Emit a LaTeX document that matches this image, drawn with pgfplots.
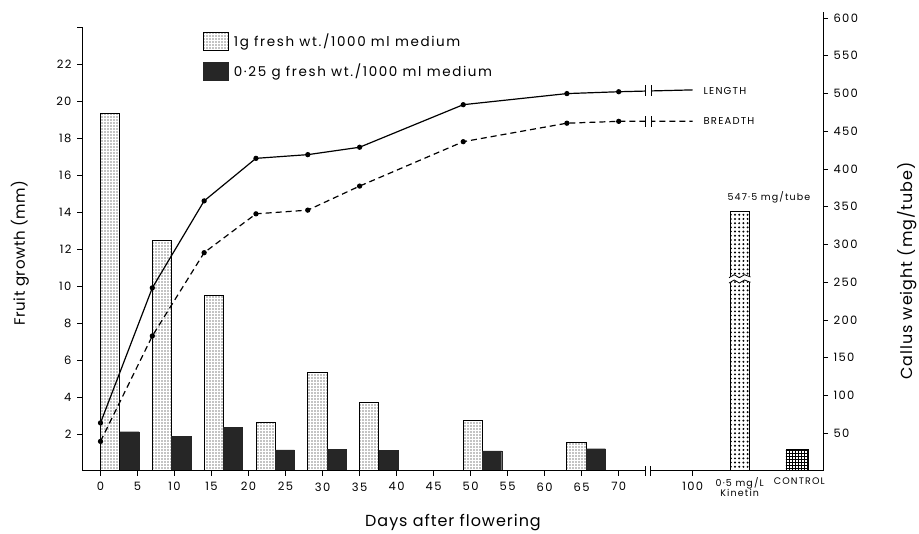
\documentclass[border=0pt]{standalone}
\usepackage{fontspec}
\setmainfont{Poppins}
\newfontfamily\letterfont[LetterSpace=12]{Poppins}
\usepackage{pgfplots}
\pgfplotsset{compat=1.18}
\usetikzlibrary{patterns,patterns.meta}

\definecolor{barblack}{HTML}{262626}

% callus weight (mg/tube), bars start at day d
\pgfplotstableread{
day  high  low
0    474   52
7    305   46
14   233   58
21   64.5  28
28   130   29
35   91    27
49   66.6  26.5
63   37.5  29.5
}\callus

% fruit growth (mm); the last point (x=80) stands for day 100, past the axis break
\pgfplotstableread{
day  len   br
0    2.6   1.6
7    9.9   7.3
14   14.6  11.8
21   16.9  13.9
28   17.1  14.1
35   17.5  15.4
49   19.8  17.8
63   20.4  18.8
70   20.5  18.9
80   20.6  18.9
}\growth

\begin{document}
\begin{tikzpicture}
\useasboundingbox (0pt,0pt) rectangle (919pt,534pt);

% ---- bars, right axis (callus weight)
\begin{axis}[
  at={(82pt,63pt)}, anchor=south west,
  width=741pt, height=459pt, scale only axis,
  xmin=-2.5, xmax=97.6, ymin=0, ymax=608,
  axis x line=none, axis y line*=right,
  axis line style={-, line width=1pt},
  ytick={50,100,...,600},
  tick align=outside, major tick length=5pt,
  tick style={line width=0.8pt, black},
  /pgf/number format/assume math mode=true,
  yticklabel style={font=\letterfont\fontsize{11.5}{13}\selectfont, xshift=2pt},
  legend style={at={(axis description cs:0.163,0.957)}, anchor=north west,
    draw=none, fill=none, font=\letterfont\fontsize{13.5}{15}\selectfont,
    row sep=11pt, inner sep=0pt,
    /tikz/every odd column/.append style={column sep=3pt}},
  legend cell align=left,
  legend image code/.code={\draw[#1] (0pt,-9pt) rectangle (25pt,9pt);},
]
\addplot[ybar, bar width=2.6, bar shift=1.3, draw=black, line width=0.9pt,
  pattern={Dots[radius=0.7pt,distance=3pt]}] table[x=day,y=high] {\callus};
\addplot[ybar, bar width=2.6, bar shift=3.9, draw=barblack, fill=barblack]
  table[x=day,y=low] {\callus};
% 0.5 mg/L kinetin (547.5 mg/tube, drawn broken) and control
\addplot[ybar, bar width=2.6, bar shift=0pt, draw=black, line width=0.9pt,
  pattern={Dots[radius=1.1pt,distance=4.2pt]}, forget plot] coordinates {(86.35,344)};
\addplot[ybar, bar width=3, bar shift=0pt, draw=black, line width=0.9pt,
  pattern=grid, forget plot] coordinates {(94.1,29)};
\legend{1g fresh wt./1000 ml medium, 0·25 g fresh wt./1000 ml medium}
% break in the kinetin bar
\fill[white] (axis cs:84.9,249) -- (axis cs:85.6,253) -- (axis cs:86.3,249) -- (axis cs:87.0,253) -- (axis cs:87.8,250)
  -- (axis cs:87.8,257) -- (axis cs:87.0,260) -- (axis cs:86.3,256) -- (axis cs:85.6,260) -- (axis cs:84.9,256) -- cycle;
\draw[line width=0.8pt] (axis cs:84.9,249) -- (axis cs:85.6,253) -- (axis cs:86.3,249) -- (axis cs:87.0,253) -- (axis cs:87.8,250);
\draw[line width=0.8pt] (axis cs:84.9,256) -- (axis cs:85.6,260) -- (axis cs:86.3,256) -- (axis cs:87.0,260) -- (axis cs:87.8,257);
\node[font=\letterfont\fontsize{9.5}{11}\selectfont] at (axis cs:90.3,362) {547·5 mg/tube};
\end{axis}

% ---- lines, left axis (fruit growth)
\begin{axis}[
  at={(82pt,63pt)}, anchor=south west,
  width=741pt, height=444pt, scale only axis,
  xmin=-2.5, xmax=97.6, ymin=0, ymax=24,
  axis x line*=bottom, axis y line*=left,
  axis line style={-, line width=1pt},
  xtick={0,5,...,70,80},
  xticklabels={0,5,10,15,20,25,30,35,40,45,50,55,60,65,70,100},
  extra x ticks={86.35,94.4},
  extra x tick labels={{0·5 mg/L\\Kinetin},CONTROL},
  extra x tick style={major tick length=0pt,
    tick label style={align=center, font=\letterfont\fontsize{9.5}{10}\selectfont, yshift=0pt}},
  ytick={2,4,...,22},
  extra y ticks={24}, extra y tick labels={},
  tick align=outside, major tick length=5pt,
  tick style={line width=0.8pt, black},
  /pgf/number format/assume math mode=true,
  ticklabel style={font=\letterfont\fontsize{11.5}{13}\selectfont},
  xticklabel style={yshift=-3pt},
  yticklabel style={xshift=-2pt},
  clip=false,
]
\addplot[black, line width=1.2pt, mark=*, mark size=2pt, mark indices={1,...,9}]
  table[x=day,y=len] {\growth};
\addplot[black, line width=1.2pt, dash pattern=on 6pt off 4pt, mark=*, mark size=2pt,
  mark options={solid}, mark indices={1,...,9}]
  table[x=day,y=br] {\growth};
% axis breaks on the curves
\fill[white] (axis cs:73.65,20.26) rectangle (axis cs:74.35,20.86);
\draw[line width=0.9pt] (axis cs:73.55,20.28) -- (axis cs:73.55,20.84);
\draw[line width=0.9pt] (axis cs:74.45,20.28) -- (axis cs:74.45,20.84);
\fill[white] (axis cs:73.65,18.6) rectangle (axis cs:74.35,19.2);
\draw[line width=0.9pt] (axis cs:73.55,18.62) -- (axis cs:73.55,19.18);
\draw[line width=0.9pt] (axis cs:74.45,18.62) -- (axis cs:74.45,19.18);
\node[anchor=west, font=\letterfont\fontsize{10}{12}\selectfont] at (axis cs:81,20.56) {LENGTH};
\node[anchor=west, font=\letterfont\fontsize{10}{12}\selectfont] at (axis cs:81,18.9) {BREADTH};
\coordinate (xbrk) at (axis cs:74,0);
\end{axis}

% break on the day axis
\fill[white] ([xshift=-2.5pt,yshift=-2pt]xbrk) rectangle ([xshift=2.5pt,yshift=2pt]xbrk);
\draw[line width=0.9pt] ([xshift=-2.5pt,yshift=-5pt]xbrk) -- ([xshift=-2.5pt,yshift=5pt]xbrk);
\draw[line width=0.9pt] ([xshift=2.5pt,yshift=-5pt]xbrk) -- ([xshift=2.5pt,yshift=5pt]xbrk);

\node[rotate=90, font=\fontsize{15}{18}\selectfont\addfontfeature{LetterSpace=4}] at (20pt,281pt) {Fruit growth (mm)};
\node[rotate=90, font=\fontsize{16}{19}\selectfont\addfontfeature{LetterSpace=6}] at (907pt,263pt) {Callus weight (mg/tube)};
\node[font=\fontsize{16}{19}\selectfont\addfontfeature{LetterSpace=6}] at (453pt,11pt) {Days after flowering};
\end{tikzpicture}
\end{document}
